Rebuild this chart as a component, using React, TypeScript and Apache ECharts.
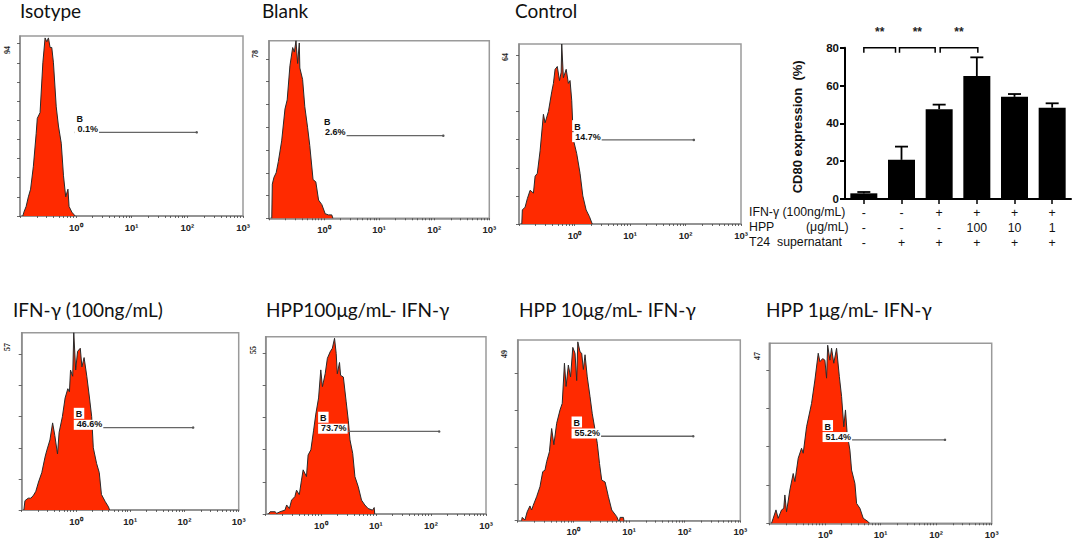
import React, { useEffect, useRef } from "react";
import * as echarts from "echarts";

// ---------- flow cytometry histograms: x = log10 fluorescence, y = counts ----------
const isotypeX = [-0.95,-0.93,-0.89,-0.85,-0.81,-0.76,-0.71,-0.69,-0.64,-0.59,-0.55,-0.52,-0.49,-0.46,-0.43,-0.40,-0.35,-0.31,-0.26,-0.22,-0.18,-0.14,-0.12,-0.07,-0.01];
const isotypeY = [0,2,5,10,14,26,43,51,54,80,93,91,93,88,88,80,57,47,38,21,10,14,5,2,0];
const blankX = [-0.95,-0.94,-0.91,-0.87,-0.83,-0.77,-0.71,-0.67,-0.62,-0.57,-0.54,-0.51,-0.48,-0.45,-0.44,-0.39,-0.35,-0.30,-0.26,-0.20,-0.15,-0.10,-0.04,0.02,0.08,0.14,0.16];
const blankY = [0,15,18,20,25,34,48,52,67,75,73,78,68,77,66,61,49,40,32,17,16,8,6,2,1.5,1.5,0];
const controlX = [-0.95,-0.94,-0.89,-0.85,-0.80,-0.74,-0.71,-0.67,-0.62,-0.56,-0.53,-0.47,-0.41,-0.38,-0.35,-0.31,-0.27,-0.24,-0.23,-0.20,-0.15,-0.11,-0.08,-0.05,-0.02,0.04,0.10,0.15,0.21,0.27,0.32];
const controlY = [0,5,6,9,12,11,17,18,26,39,36,40,47,50,55,56,51,54,64,52,55,50,51,44,30,25,18,10,5,2.6,0];
const ifnX = [-0.96,-0.94,-0.88,-0.83,-0.78,-0.74,-0.69,-0.63,-0.57,-0.54,-0.48,-0.43,-0.39,-0.34,-0.31,-0.25,-0.20,-0.15,-0.12,-0.10,-0.06,-0.04,-0.005,0.03,0.08,0.11,0.15,0.20,0.25,0.29,0.32,0.38,0.43,0.47,0.54,0.60,0.62];
const ifnY = [0,3,3.8,3.8,4.8,6,9,12,17,19,22.5,28,24,18,25,30,36,39,38,45,43,57,45,51,52,46,49,43,36,30,20,15,12,5,2.7,1,0];
const hpp100X = [-0.95,-0.92,-0.83,-0.80,-0.74,-0.65,-0.62,-0.57,-0.53,-0.47,-0.44,-0.39,-0.35,-0.32,-0.26,-0.23,-0.18,-0.13,-0.09,-0.04,0,0.03,0.08,0.12,0.17,0.21,0.25,0.28,0.30,0.34,0.36,0.41,0.46,0.50,0.53,0.58,0.62,0.68,0.74,0.80,0.86,0.94,0.97,0.98];
const hpp100Y = [0,0.7,0.7,0.2,0.7,1.2,2.8,1.7,4.3,5.4,7.4,6,10.5,13.7,11.6,18.3,19.9,26,31,36,44.7,39.5,43.5,48.3,50.3,51.4,54.5,49.8,43.5,47,43,42.5,35,29,23,18.8,11.6,8.5,4.3,2.8,1.7,1.2,2,0];
const hpp10X = [-0.93,-0.92,-0.87,-0.83,-0.78,-0.75,-0.72,-0.66,-0.60,-0.55,-0.51,-0.48,-0.43,-0.39,-0.35,-0.30,-0.24,-0.20,-0.16,-0.13,-0.09,-0.05,-0.01,0.03,0.06,0.08,0.12,0.15,0.18,0.21,0.25,0.30,0.34,0.39,0.43,0.47,0.51,0.57,0.63,0.69,0.78,0.81,0.83,0.84,0.90,0.91];
const hpp10Y = [0,0.9,0.2,2.4,4,2.9,4.2,6.5,9.2,13.3,13.7,16,18.7,25,20.6,26.4,30,31.8,42.7,36.4,42.2,39,47,45.4,38,48.5,45.8,45.4,41,45,39,33.6,29,24.6,21,15.5,11,10.5,6.5,2.9,1.1,0,0,0.9,0.9,0];
const hpp1X = [-0.96,-0.93,-0.88,-0.84,-0.78,-0.74,-0.72,-0.69,-0.63,-0.57,-0.54,-0.48,-0.42,-0.39,-0.33,-0.24,-0.18,-0.12,-0.09,-0.04,0,0.03,0.05,0.09,0.12,0.16,0.21,0.26,0.30,0.34,0.37,0.40,0.45,0.48,0.54,0.57,0.63,0.69,0.78,0.80];
const hpp1Y = [0,1.3,3.5,1.3,3.5,3.9,7.4,3,8.7,13,10.9,17,19.6,18.3,25.2,31.3,37.4,44.4,42.2,43,42.6,37.9,46.5,42.6,45.7,41.8,45.7,38.3,33.1,25.2,29.6,23.5,19.1,13.9,10.4,5.2,3.9,1.3,0.4,0];

const panelTitles = ["Isotype","Blank","Control","IFN-γ (100ng/mL)","HPP100μg/mL- IFN-γ","HPP 10μg/mL- IFN-γ","HPP 1μg/mL- IFN-γ"];
const panelX = [isotypeX,blankX,controlX,ifnX,hpp100X,hpp10X,hpp1X];
const panelY = [isotypeY,blankY,controlY,ifnY,hpp100Y,hpp10Y,hpp1Y];
const panelMax = [94,78,64,57,55,49,47];
const gatePercent = ["0.1%","2.6%","14.7%","46.6%","73.7%","55.2%","51.4%"];
const gateLevel = [43.7,36.3,29.9,26.5,25.6,22.9,21.8];
const gateStart = [0,-0.014,-0.02,-0.017,-0.026,-0.01,-0.02];
const gateEnd = [2.17,2.165,2.15,2.16,2.15,2.155,2.16];
const decadeLabels: Record<number,string> = {0:"10⁰",1:"10¹",2:"10²",3:"10³"};
const decades = [0,1,2,3];
const mantissas = [1,2,3,4,5,6,7,8,9];

// ---------- layout (page pixels) ----------
const panelBoxes = [
  [20,36,243,216],[269,40.7,489.3,218.3],[519,44,741,224],
  [21.7,332.7,238.7,510],[265.7,336.7,486,514],[517.7,340,740.3,520.7],[769.3,343.3,991.7,523.3],
];
const titleSpots = [[20,1],[262,1],[515,1],[13,300],[266,300],[519,300],[766,300]];
const maxLabelSpots = [[7,50],[255,54],[505,57],[7,347],[253,350],[504,354],[757,356]];

// ---------- CD80 bar chart ----------
const barCategories = ["a","b","c","d","e","f"];
const barValues = [3,20.7,47.5,65,54,48.3];
const barErrorTops = [3.7,27.7,49.9,74.9,55.5,50.6];
const rowIfn = ["-","-","+","+","+","+"];
const rowHpp = ["-","-","-","100","10","1"];
const rowT24 = ["-","+","+","+","+","+"];
const bracketFrom = [0,1,2];
const bracketTo = [1,2,3];
const bracketFromNudge = [0,-2,1];
const bracketToNudge = [-6,-4,1];
const starLabels = ["**","**","**"];

const SANS = "Liberation Sans, Arial, sans-serif";

function buildOption() {
  const tickPositions: number[] = [];
  for (let d = -1; d < 3; d++) for (const m of mantissas) tickPositions.push(d + Math.log10(m));
  tickPositions.push(3);

  const grid: any[] = [], xAxis: any[] = [], yAxis: any[] = [], series: any[] = [], title: any[] = [], graphic: any[] = [];

  panelBoxes.forEach((b, i) => {
    grid.push({ left: b[0], top: b[1], width: b[2]-b[0], height: b[3]-b[1], show: true, borderColor: "#9a9a9a", borderWidth: 1.5, backgroundColor: "#fff" });
    xAxis.push({
      gridIndex: i, type: "value", min: -1, max: 3, interval: 1,
      axisLine: { show: true, onZero: false, lineStyle: { color: "#8a8a8a", width: 1.5 } },
      axisTick: { show: true, length: 2, customValues: tickPositions, lineStyle: { color: "#444", width: 0.8 } },
      splitLine: { show: false },
      axisLabel: { show: true, customValues: decades, margin: 6, fontSize: 9.5, fontWeight: "bold", fontFamily: SANS, color: "#222", formatter: (v: number) => decadeLabels[v] || "", hideOverlap: false, showMinLabel: true, showMaxLabel: true },
    });
    const ticks: number[] = [];
    for (let v = 0; v <= panelMax[i]; v += 10) ticks.push(v);
    yAxis.push({
      gridIndex: i, type: "value", min: 0, max: panelMax[i],
      axisLine: { show: true, onZero: false, lineStyle: { color: "#8a8a8a", width: 1.5 } },
      axisTick: { show: true, length: 3, customValues: ticks, lineStyle: { color: "#444", width: 0.8 } },
      splitLine: { show: false },
      axisLabel: { show: false },
    });
    series.push({
      type: "line", xAxisIndex: i, yAxisIndex: i, showSymbol: false, symbol: "none", silent: true,
      data: panelX[i].map((x, k) => [x, panelY[i][k]]),
      lineStyle: { color: "#2a2a2a", width: 1 },
      areaStyle: { color: "#ff2a00", opacity: 1 },
      z: 3,
    });
    series.push({
      type: "line", xAxisIndex: i, yAxisIndex: i, silent: true, symbol: "circle", symbolSize: 2.5,
      itemStyle: { color: "#555" },
      lineStyle: { color: "#666", width: 1.3 },
      z: 5,
      data: [
        { value: [gateStart[i], gateLevel[i]],
          label: { show: true, position: [0, -19], align: "left", verticalAlign: "top",
            formatter: `{b|B}\n{p|${gatePercent[i]}}`,
            rich: {
              b: { fontFamily: SANS, fontSize: 9, fontWeight: "bold", color: "#111", backgroundColor: "#fff", padding: [2,2,0,2], lineHeight: 12 },
              p: { fontFamily: SANS, fontSize: 9, fontWeight: "bold", color: "#111", backgroundColor: "#fff", padding: [0,1,1,3], lineHeight: 11 },
            } } },
        { value: [gateEnd[i], gateLevel[i]] },
      ],
    });
    title.push({ text: panelTitles[i], left: titleSpots[i][0], top: titleSpots[i][1], padding: 0,
      textStyle: { fontFamily: "Lato, Open Sans, sans-serif", fontSize: 19, fontWeight: "normal", color: "#111" } });
    graphic.push({ type: "text", x: maxLabelSpots[i][0], y: maxLabelSpots[i][1], rotation: Math.PI/2,
      style: { text: String(panelMax[i]), fontFamily: "Liberation Serif, serif", fontWeight: "bold", fontSize: 8, fill: "#222", align: "center", verticalAlign: "middle" } });
  });

  // bar panel
  const B = 7;
  grid.push({ left: 845, top: 47.7, width: 226, height: 151.3 });
  xAxis.push({
    gridIndex: B, type: "category", data: barCategories,
    axisLine: { show: true, lineStyle: { color: "#000", width: 2 } },
    axisTick: { show: true, alignWithLabel: true, length: 5, lineStyle: { color: "#000", width: 1.5 } },
    axisLabel: {
      interval: 0, margin: 6, fontFamily: SANS, fontSize: 12.3, lineHeight: 15.3, color: "#111",
      formatter: (_: string, idx: number) => `${rowIfn[idx]}\n${rowHpp[idx]}\n${rowT24[idx]}`,
    },
  });
  yAxis.push({
    gridIndex: B, type: "value", min: 0, max: 80, interval: 20,
    name: "CD80 expression  (%)", nameLocation: "middle", nameGap: 41, nameRotate: 90,
    nameTextStyle: { fontFamily: SANS, fontSize: 13, fontWeight: "bold", color: "#111", padding: [0,7,0,0] },
    axisLine: { show: true, lineStyle: { color: "#000", width: 2 } },
    axisTick: { show: true, length: 5, lineStyle: { color: "#000", width: 2 } },
    axisLabel: { margin: 6, fontFamily: SANS, fontSize: 11.5, fontWeight: "bold", color: "#111" },
    splitLine: { show: false },
  });
  series.push({
    type: "bar", xAxisIndex: B, yAxisIndex: B, data: barValues, barWidth: 27, silent: true,
    itemStyle: { color: "#000" }, z: 3,
  });
  series.push({
    type: "custom", xAxisIndex: B, yAxisIndex: B, silent: true, z: 4,
    data: barErrorTops.map((t, i) => [i, barValues[i], t]),
    renderItem: (_: any, api: any) => {
      const a = api.coord([api.value(0), api.value(1)]);
      const t = api.coord([api.value(0), api.value(2)]);
      const st = { stroke: "#000", lineWidth: 1.8, fill: "none" };
      return { type: "group", children: [
        { type: "line", shape: { x1: a[0], y1: a[1], x2: t[0], y2: t[1] }, style: st },
        { type: "line", shape: { x1: t[0]-6.5, y1: t[1], x2: t[0]+6.5, y2: t[1] }, style: st },
      ] };
    },
  });
  series.push({
    type: "custom", xAxisIndex: B, yAxisIndex: B, silent: true, z: 4, clip: false,
    data: bracketFrom.map((f, i) => [f, bracketTo[i], 80, i]),
    renderItem: (_: any, api: any) => {
      const i = api.value(3);
      const l = api.coord([api.value(0), api.value(2)]);
      const r = api.coord([api.value(1), api.value(2)]);
      const x1 = l[0] + bracketFromNudge[i], x2 = r[0] + bracketToNudge[i], y = l[1];
      return { type: "group", children: [
        { type: "polyline", shape: { points: [[x1,y+5],[x1,y],[x2,y],[x2,y+5]] }, style: { stroke: "#000", lineWidth: 1.5, fill: "none" } },
        { type: "text", style: { text: starLabels[i], x: (x1+x2)/2, y: y-16, align: "center", verticalAlign: "middle", fontFamily: SANS, fontSize: 12, fontWeight: "bold", fill: "#222" } },
      ] };
    },
  });

  const rowStyle = { fontFamily: SANS, fontSize: 12.3, fill: "#111", verticalAlign: "middle" };
  graphic.push(
    { type: "text", x: 749, y: 211.7, style: { ...rowStyle, text: "IFN-γ (100ng/mL)" } },
    { type: "text", x: 749, y: 227, style: { ...rowStyle, text: "HPP" } },
    { type: "text", x: 806, y: 227, style: { ...rowStyle, text: "(μg/mL)" } },
    { type: "text", x: 749, y: 242.3, style: { ...rowStyle, text: "T24  supernatant" } },
  );

  return { animation: false, backgroundColor: "#fff", title, grid, xAxis, yAxis, series, graphic };
}

export default function App() {
  const ref = useRef<HTMLDivElement>(null);
  useEffect(() => {
    const chart = echarts.init(ref.current!, undefined, { renderer: "svg" });
    chart.setOption(buildOption() as any);
    return () => chart.dispose();
  }, []);
  return <div ref={ref} style={{ position: "fixed", left: 0, top: 0, width: 1074, height: 540 }} />;
}
